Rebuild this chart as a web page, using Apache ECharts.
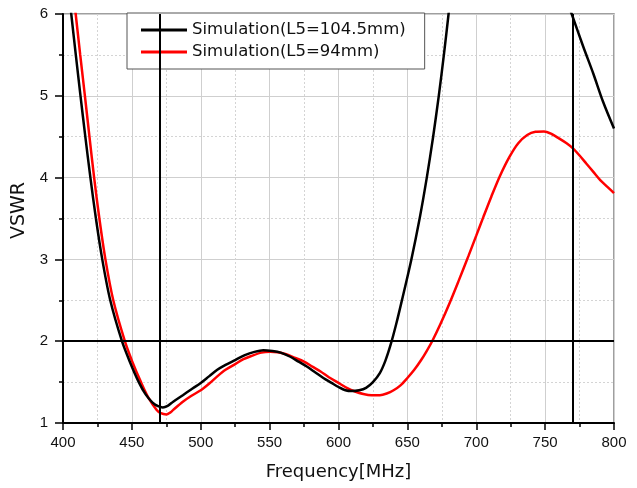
<!DOCTYPE html>
<html>
<head>
<meta charset="utf-8">
<script src="https://cdn.jsdelivr.net/npm/echarts@6/dist/echarts.min.js"></script>
<style>
html,body{margin:0;padding:0;background:#fff;}
#c{width:637px;height:488px;}
</style>
</head>
<body>
<div id="c"></div>
<script>
var seriesNames = ['Simulation(L5=104.5mm)', 'Simulation(L5=94mm)'];
var blackX = [403, 406, 409.3, 412.7, 416.2, 419.9, 423.9, 428.5, 434.3, 442.8, 448.5, 455, 460, 465, 469, 472.5, 476, 480, 487, 493, 500, 506, 512, 518, 525, 532, 539, 545.4, 552, 558, 565, 571, 577, 583, 589, 595, 600, 605, 609.6, 615, 620, 625, 630, 634, 637.9, 641.9, 645.9, 652.9, 658.9, 664.1, 668.7, 672.8, 676.5, 679.9, 683, 725, 765, 769.3, 777.7, 785, 792, 800];
var blackY = [6.5, 6.0, 5.5, 5.0, 4.5, 4.0, 3.5, 3.0, 2.5, 2.0, 1.75, 1.5, 1.35, 1.25, 1.205, 1.19, 1.21, 1.26, 1.34, 1.41, 1.49, 1.57, 1.65, 1.71, 1.77, 1.83, 1.87, 1.89, 1.88, 1.86, 1.81, 1.75, 1.69, 1.62, 1.55, 1.49, 1.44, 1.40, 1.39, 1.40, 1.43, 1.50, 1.61, 1.76, 1.96, 2.21, 2.49, 3.0, 3.5, 4.0, 4.5, 5.0, 5.5, 6.0, 6.5, null, 6.2, 6.0, 5.6, 5.27, 4.93, 4.60];
var redX = [405.5, 409.2, 412.5, 415.9, 419.2, 422.6, 426.4, 430.8, 436.5, 444.9, 450.3, 456.6, 462, 468, 471, 475, 478, 480, 487, 493, 500, 506, 512, 518, 525, 531, 537, 544, 550.3, 556, 562, 568, 575, 581, 587, 593, 600, 606, 612, 618, 624, 630, 635, 640, 645, 650, 655, 660, 664, 668, 674, 681, 687.5, 694.3, 700, 705.2, 711, 717.2, 724, 730.5, 737, 743, 749.2, 755, 760, 765.6, 770, 775, 780, 785, 790, 795, 800];
var redY = [6.55, 6.0, 5.5, 5.0, 4.5, 4.0, 3.5, 3.0, 2.5, 2.0, 1.75, 1.5, 1.31, 1.16, 1.12, 1.105, 1.13, 1.16, 1.26, 1.33, 1.40, 1.48, 1.57, 1.65, 1.72, 1.78, 1.82, 1.86, 1.87, 1.865, 1.84, 1.80, 1.75, 1.69, 1.63, 1.56, 1.49, 1.43, 1.385, 1.355, 1.34, 1.34, 1.36, 1.40, 1.46, 1.55, 1.65, 1.77, 1.88, 2.0, 2.21, 2.48, 2.75, 3.04, 3.29, 3.52, 3.77, 4.02, 4.25, 4.42, 4.52, 4.56, 4.565, 4.53, 4.48, 4.42, 4.36, 4.27, 4.17, 4.07, 3.97, 3.89, 3.81];
var refX = [470, 770];
var refY = [2];
var xTicks = [400, 800, 50];
var yTicks = [1, 6, 1];

function zip(xs, ys) { return xs.map(function (x, i) { return [x, ys[i] === null ? '-' : ys[i]]; }); }

var chart = echarts.init(document.getElementById('c'));
var tickFont = 'Liberation Sans, Arial, sans-serif';
var nameFont = 'DejaVu Sans, sans-serif';
var markData = refX.map(function (v) { return { xAxis: v }; }).concat(refY.map(function (v) { return { yAxis: v }; }));

chart.setOption({
  animation: false,
  backgroundColor: '#fff',
  grid: { left: 63, right: 23, top: 14, bottom: 65, show: true, borderColor: '#808080', borderWidth: 1.5, backgroundColor: 'transparent' },
  legend: {
    data: seriesNames,
    orient: 'vertical',
    left: 127, top: 13,
    padding: [8, 19, 8, 14],
    itemGap: 4,
    icon: 'rect',
    itemWidth: 46, itemHeight: 3,
    backgroundColor: '#fff',
    borderColor: '#555', borderWidth: 1,
    textStyle: { fontFamily: nameFont, fontSize: 16.5, color: '#111', lineHeight: 18 }
  },
  xAxis: {
    type: 'value', min: xTicks[0], max: xTicks[1], interval: xTicks[2],
    name: 'Frequency[MHz]', nameLocation: 'middle', nameGap: 40,
    nameTextStyle: { fontFamily: nameFont, fontSize: 18, color: '#111' },
    axisLine: { onZero: false, lineStyle: { color: '#000', width: 2 } },
    axisTick: { inside: false, length: 7, lineStyle: { color: '#000', width: 1.5 } },
    minorTick: { show: true, splitNumber: 2, length: 4, lineStyle: { color: '#000', width: 1.5 } },
    axisLabel: { fontFamily: tickFont, fontSize: 15, color: '#111', margin: 12 },
    splitLine: { show: true, lineStyle: { color: '#cfcfcf', width: 1 } },
    minorSplitLine: { show: true, lineStyle: { color: '#d4d4d4', width: 1, type: [2, 2] } }
  },
  yAxis: {
    type: 'value', min: yTicks[0], max: yTicks[1], interval: yTicks[2],
    name: 'VSWR', nameLocation: 'middle', nameGap: 33, nameRotate: 90,
    nameTextStyle: { fontFamily: nameFont, fontSize: 19, color: '#111', padding: [0, 0, 0, 16] },
    axisLine: { onZero: false, lineStyle: { color: '#000', width: 2 } },
    axisTick: { inside: false, length: 8, lineStyle: { color: '#000', width: 1.5 } },
    minorTick: { show: true, splitNumber: 2, length: 4, lineStyle: { color: '#000', width: 1.5 } },
    axisLabel: { fontFamily: tickFont, fontSize: 15, color: '#111', margin: 15 },
    splitLine: { show: true, lineStyle: { color: '#cfcfcf', width: 1 } },
    minorSplitLine: { show: true, lineStyle: { color: '#d4d4d4', width: 1, type: [2, 2] } }
  },
  series: [
    {
      name: seriesNames[0], type: 'line', data: zip(blackX, blackY),
      symbol: 'none', smooth: 0.3, connectNulls: false,
      lineStyle: { color: '#000', width: 2.5 }, itemStyle: { color: '#000' }, z: 3
    },
    {
      name: seriesNames[1], type: 'line', data: zip(redX, redY),
      symbol: 'none', smooth: 0.3,
      lineStyle: { color: '#ff0000', width: 2.5 }, itemStyle: { color: '#ff0000' }, z: 2,
      markLine: {
        silent: true, symbol: 'none', z: 6,
        label: { show: false },
        lineStyle: { color: '#000', width: 2, type: 'solid' },
        data: markData
      }
    }
  ]
});
</script>
</body>
</html>
